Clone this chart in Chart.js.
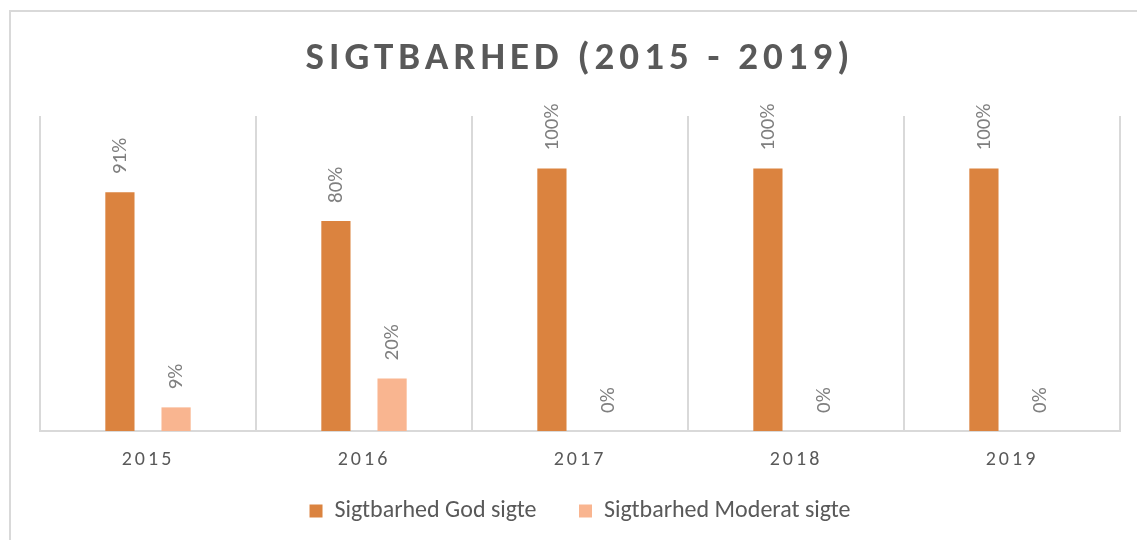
<!DOCTYPE html>
<html>
<head>
<meta charset="utf-8">
<script src="https://cdn.jsdelivr.net/npm/chart.js@4/dist/chart.umd.min.js"></script>
<style>
  body { margin: 0; background: #fff; overflow: hidden; }
  #wrap { position: relative; width: 1137px; height: 540px; }
  #frame { position: absolute; left: 9px; top: 10px; width: 1200px; height: 600px; border: 2px solid #d9d9d9; }
  canvas { position: absolute; left: 0; top: 0; }
</style>
</head>
<body>
<div id="wrap">
  <div id="frame"></div>
  <canvas id="chart" width="1137" height="540"></canvas>
</div>
<script>
// data
var chartTitle = 'SIGTBARHED (2015 - 2019)';
var years = ['2015', '2016', '2017', '2018', '2019'];
var godSigte = [91, 80, 100, 100, 100];
var moderatSigte = [9, 20, 0, 0, 0];
var seriesNames = ['Sigtbarhed God sigte', 'Sigtbarhed Moderat sigte'];

var fontFamily = "Carlito, Calibri, 'Liberation Sans', Arial, sans-serif";

// etiquettes de valeur tournées + titre espacé
var labelPlugin = {
  id: 'valueLabels',
  afterDatasetsDraw: function(chart) {
    var ctx = chart.ctx;
    chart.data.datasets.forEach(function(ds, i) {
      var meta = chart.getDatasetMeta(i);
      meta.data.forEach(function(bar, j) {
        ctx.save();
        ctx.translate(bar.x + 1, bar.y - 18);
        ctx.rotate(-Math.PI / 2);
        ctx.font = '21px ' + fontFamily;
        ctx.fillStyle = '#7f7f7f';
        ctx.textAlign = 'left';
        ctx.textBaseline = 'middle';
        ctx.fillText(ds.data[j] + '%', 0, 0);
        ctx.restore();
      });
    });
    // les ticks (z: 1) sont dessinés après, avec un espacement
    ctx.letterSpacing = '3px';
  },
  afterDraw: function(chart) {
    var ctx = chart.ctx;
    ctx.save();
    ctx.letterSpacing = '5px';
    ctx.font = 'bold 39px ' + fontFamily;
    ctx.fillStyle = '#595959';
    ctx.textAlign = 'center';
    ctx.textBaseline = 'middle';
    ctx.fillText(chartTitle, 580, 59);
    ctx.restore();
    ctx.letterSpacing = '0px';
  }
};

var ctx = document.getElementById('chart').getContext('2d');
new Chart(ctx, {
  type: 'bar',
  data: {
    labels: years,
    datasets: [
      {
        label: seriesNames[0],
        data: godSigte,
        backgroundColor: '#db833f',
        barPercentage: 0.52,
        categoryPercentage: 0.52
      },
      {
        label: seriesNames[1],
        data: moderatSigte,
        backgroundColor: '#f9b590',
        barPercentage: 0.52,
        categoryPercentage: 0.52
      }
    ]
  },
  options: {
    responsive: false,
    animation: false,
    layout: { padding: { left: 40, right: 17, top: 116, bottom: 7 } },
    plugins: {
      title: { display: false },
      tooltip: { enabled: false },
      legend: {
        position: 'bottom',
        labels: {
          boxWidth: 13,
          boxHeight: 13,
          padding: 10,
          color: '#595959',
          font: { family: fontFamily, size: 24 },
          generateLabels: function(chart) {
            var items = Chart.defaults.plugins.legend.labels.generateLabels(chart);
            // écart plus large entre les deux entrées
            items[0].text += '      ';
            return items;
          }
        }
      }
    },
    scales: {
      x: {
        grid: { offset: true, color: '#d9d9d9', lineWidth: 2, drawTicks: false },
        border: { color: '#d9d9d9', width: 2 },
        ticks: { z: 1, padding: 17, color: '#595959', font: { family: fontFamily, size: 20 } }
      },
      y: {
        display: false,
        min: 0,
        max: 120
      }
    }
  },
  plugins: [labelPlugin]
});
</script>
</body>
</html>
